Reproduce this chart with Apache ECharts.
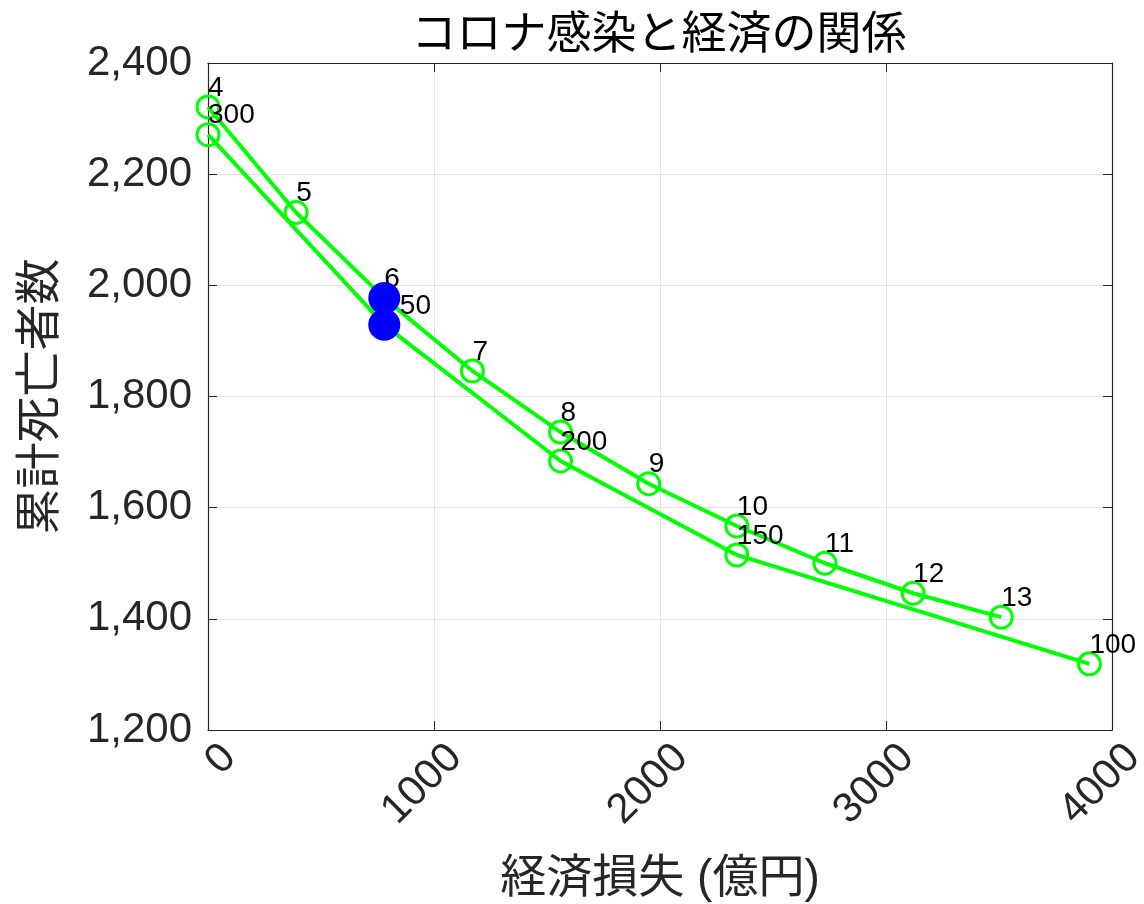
<!DOCTYPE html>
<html>
<head>
<meta charset="utf-8">
<script src="https://cdn.jsdelivr.net/npm/echarts@6/dist/echarts.min.js"></script>
<style>
html,body{margin:0;padding:0;background:#fff;}
#chart{width:1144px;height:904px;}
</style>
</head>
<body>
<div id="chart"></div>
<script>
// ---- data ----
const titleText = 'コロナ感染と経済の関係';
const xName = '経済損失 (億円)';
const yName = '累計死亡者数';
const upperX = [0, 390, 780, 1170, 1560, 1950, 2340, 2730, 3120, 3510];
const upperY = [2321, 2131, 1977, 1846, 1736, 1643, 1567, 1500, 1446, 1403];
const upperLabels = ['4', '5', '6', '7', '8', '9', '10', '11', '12', '13'];
const lowerX = [0, 780, 1560, 2340, 3900];
const lowerY = [2271, 1929, 1684, 1515, 1319];
const lowerLabels = ['300', '\u200750', '200', '150', '100'];
const highlightX = [780, 780];
const highlightY = [1977, 1929];
const xTicks = [0, 1000, 2000, 3000, 4000];
const yTicks = [1200, 1400, 1600, 1800, 2000, 2200, 2400];

// ---- styles ----
const green = '#00ff00';
const axisColor = '#262626';
const latin = "'Liberation Sans', Arial, 'Noto Sans CJK JP', sans-serif";

function pairs(xs, ys) { return xs.map((x, i) => [x, ys[i]]); }

const xMin = xTicks[0], xMax = xTicks[xTicks.length - 1], xInt = xTicks[1] - xTicks[0];
const yMin = yTicks[0], yMax = yTicks[yTicks.length - 1], yInt = yTicks[1] - yTicks[0];

const tickStyle = { inside: true, length: 9, lineStyle: { color: axisColor, width: 1 } };
const lineStyleAxis = { show: true, onZero: false, lineStyle: { color: axisColor, width: 1.2 } };

function greenSeries(xs, ys, labels) {
  return {
    type: 'line',
    data: pairs(xs, ys),
    symbol: 'circle',
    symbolSize: 22,
    showAllSymbol: true,
    clip: false,
    itemStyle: { color: 'rgba(255,255,255,0)', borderColor: green, borderWidth: 3 },
    lineStyle: { color: green, width: 4 },
    label: {
      show: true,
      position: 'inside',
      align: 'left',
      verticalAlign: 'middle',
      offset: [0, -19],
      fontSize: 28,
      fontFamily: latin,
      color: '#000',
      formatter: p => labels[p.dataIndex]
    },
    emphasis: { disabled: true },
    z: 2
  };
}

const chart = echarts.init(document.getElementById('chart'), null, { renderer: 'canvas' });
chart.setOption({
  animation: false,
  backgroundColor: '#fff',
  title: {
    text: titleText,
    left: 654,
    textAlign: 'center',
    top: 9,
    textStyle: { fontSize: 45, fontWeight: 'normal', color: '#000', fontFamily: latin }
  },
  grid: { left: 208, right: 32, top: 63, bottom: 174, containLabel: false, outerBoundsMode: 'none' },
  xAxis: [
    {
      type: 'value', min: xMin, max: xMax, interval: xInt, position: 'bottom',
      name: xName, nameLocation: 'middle', nameGap: 126,
      nameTextStyle: { fontSize: 46, color: axisColor, fontFamily: latin },
      axisLine: lineStyleAxis, axisTick: tickStyle,
      axisLabel: { rotate: 45, fontSize: 42, color: axisColor, fontFamily: latin, margin: 0,
        verticalAlign: 'top', padding: [9, 0, 0, 0], formatter: v => String(v) },
      splitLine: { show: true, lineStyle: { color: '#e3e3e3', width: 1 } }
    },
    {
      type: 'value', min: xMin, max: xMax, interval: xInt, position: 'top',
      axisLine: lineStyleAxis, axisTick: tickStyle, axisLabel: { show: false }, splitLine: { show: false }
    }
  ],
  yAxis: [
    {
      type: 'value', min: yMin, max: yMax, interval: yInt, position: 'left',
      name: yName, nameLocation: 'middle', nameGap: 144, nameRotate: 90,
      nameTextStyle: { fontSize: 46, color: axisColor, fontFamily: latin },
      axisLine: lineStyleAxis, axisTick: tickStyle,
      axisLabel: { fontSize: 42, color: axisColor, fontFamily: latin, margin: 16,
        formatter: v => v.toLocaleString('en-US') },
      splitLine: { show: true, lineStyle: { color: '#e3e3e3', width: 1 } }
    },
    {
      type: 'value', min: yMin, max: yMax, interval: yInt, position: 'right',
      axisLine: lineStyleAxis, axisTick: tickStyle, axisLabel: { show: false }, splitLine: { show: false }
    }
  ],
  series: [
    greenSeries(upperX, upperY, upperLabels),
    greenSeries(lowerX, lowerY, lowerLabels),
    {
      type: 'scatter',
      data: pairs(highlightX, highlightY),
      symbol: 'circle',
      symbolSize: 32,
      clip: false,
      itemStyle: { color: '#0000ff', opacity: 1 },
      emphasis: { disabled: true },
      z: 3
    }
  ]
});
</script>
</body>
</html>
